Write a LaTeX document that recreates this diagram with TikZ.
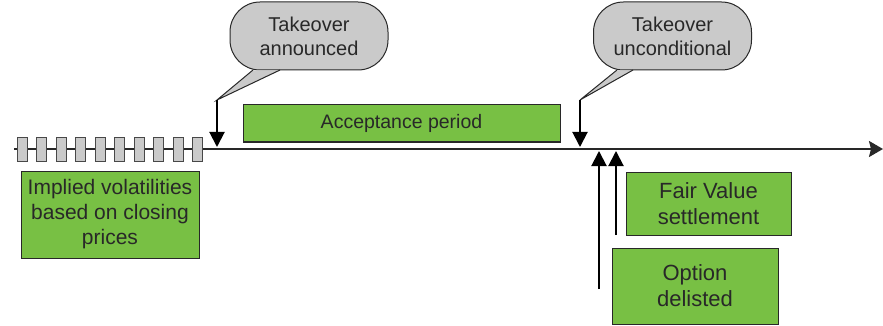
\documentclass[tikz,border=0pt]{standalone}
\usepackage{fontspec}
\setmainfont{Liberation Sans}
\usepackage{tikz}
\usetikzlibrary{arrows.meta}
\definecolor{boxgreen}{RGB}{120,192,68}
\definecolor{bubblegray}{RGB}{202,202,202}
\definecolor{inkgray}{RGB}{40,40,40}

\begin{document}
\begin{tikzpicture}[
x=1pt,y=-1pt,
greenbox/.style={draw=inkgray,fill=boxgreen,line width=1pt,align=center,inner sep=0pt,text=inkgray},
bubble/.style={draw=inkgray,fill=bubblegray,line width=1pt,rounded corners=30pt,align=center,minimum width=158pt,minimum height=68pt,inner sep=0pt,font=\fontsize{20}{24}\selectfont,text=inkgray},
bubbletail/.style={draw=inkgray,line width=1pt,line join=miter},
daybox/.style={draw=inkgray!85,fill=bubblegray,line width=0.8pt,minimum width=10pt,minimum height=24pt,inner sep=0pt},
timeline/.style={line width=2pt,draw=inkgray,-{Stealth[length=14pt,width=16pt,inset=2pt]}},
event/.style={line width=2pt,draw=black,-{Triangle[length=15pt,width=15pt]}}
]
\useasboundingbox (0,0) rectangle (883,326);

% time axis
\coordinate (t0) at (14,149);
\coordinate (t1) at (883,149);
\draw[timeline] (t0) -- (t1);

% closing prices
\foreach \i in {0,...,9}
  \node[daybox] (day\i) at (22+19.5*\i,149.5) {};

\node[greenbox,minimum width=178pt,minimum height=87pt,font=\fontsize{21}{25}\selectfont] (vol) at (110,214.5) {Implied volatilities\\based on closing\\prices};
\node[greenbox,minimum width=317pt,minimum height=37pt,font=\fontsize{19.5}{23}\selectfont] (acc) at (401.5,123.5) {Acceptance period};
\node[greenbox,minimum width=165pt,minimum height=63pt,font=\fontsize{22}{26}\selectfont] (fvs) at (708.5,203.5) {Fair Value\\settlement};
\node[greenbox,minimum width=166pt,minimum height=76pt,font=\fontsize{22}{26}\selectfont] (opt) at (695,286) {Option\\delisted};

% callouts
\node[bubble] (ann) at (309,36) {Takeover\\announced};
\coordinate (annTip) at (217,100);
\coordinate (annAt) at (217,147);
\fill[bubblegray] (253,70.4) -- (annTip) -- (280,70.4) -- cycle;
\draw[bubbletail] (253,70) -- (annTip) -- (280,70);
\draw[event] (annTip) -- (annAt);

\node[bubble] (unc) at (672.5,36) {Takeover\\unconditional};
\coordinate (uncTip) at (580,100);
\coordinate (uncAt) at (580,147);
\fill[bubblegray] (617,70.4) -- (uncTip) -- (633,70.4) -- cycle;
\draw[bubbletail] (617,70) -- (uncTip) -- (633,70);
\draw[event] (uncTip) -- (uncAt);

% events after the offer
\coordinate (optFoot) at (599,289);
\coordinate (optAt) at (599,151);
\draw[event] (optFoot) -- (optAt);
\coordinate (fvsFoot) at (616,235);
\coordinate (fvsAt) at (616,151);
\draw[event] (fvsFoot) -- (fvsAt);
\end{tikzpicture}
\end{document}
